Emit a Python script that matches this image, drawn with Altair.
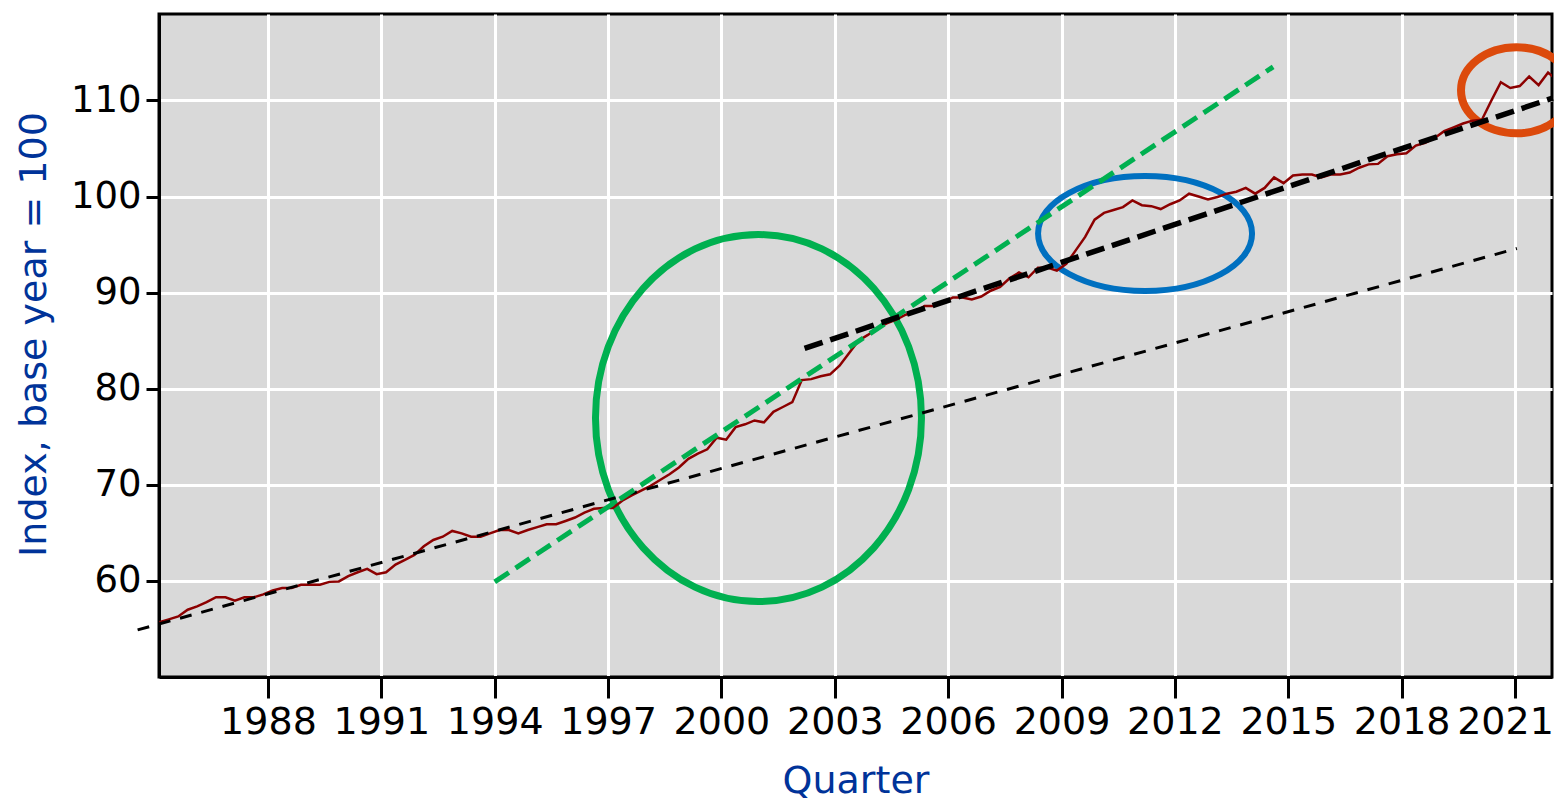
import altair as alt
import pandas as pd

# ---------------- data ----------------
first_year = 1985
index_values = [
    55.7, 56.0, 56.3, 57.0, 57.35, 57.8, 58.3, 58.3, 57.95, 58.3,
    58.3, 58.6, 59.0, 59.25, 59.25, 59.6, 59.6, 59.6, 59.9, 59.95,
    60.5, 60.9, 61.25, 60.7, 60.9, 61.7, 62.2, 62.7, 63.6, 64.26,
    64.6, 65.2, 64.95, 64.6, 64.6, 64.95, 65.3, 65.3, 64.95, 65.3,
    65.6, 65.9, 65.9, 66.24, 66.6, 67.1, 67.5, 67.6, 67.6, 68.35,
    68.9, 69.4, 69.9, 70.5, 71.1, 71.8, 72.7, 73.25, 73.7, 74.9,
    74.7, 76.0, 76.3, 76.7, 76.5, 77.6, 78.1, 78.6, 80.9, 81.0,
    81.3, 81.5, 82.4, 83.7, 85.0, 85.6, 86.3, 86.8, 87.2, 87.7,
    88.0, 88.6, 88.6, 89.0, 89.5, 89.5, 89.3, 89.6, 90.2, 90.6,
    91.5, 92.1, 91.6, 92.6, 92.6, 92.3, 93.0, 94.4, 95.8, 97.6,
    98.3, 98.6, 98.9, 99.6, 99.1, 99.0, 98.7, 99.2, 99.6, 100.3,
    100.0, 99.7, 99.96, 100.3, 100.5, 100.9, 100.3, 100.9, 102.0, 101.4,
    102.2, 102.3, 102.3, 102.0, 102.3, 102.3, 102.5, 103.0, 103.35, 103.4,
    104.2, 104.4, 104.5, 105.3, 105.6, 106.1, 106.8, 107.2, 107.6, 107.9,
    108.0, 110.0, 111.9, 111.3, 111.5, 112.5, 111.6, 112.9, 112.1,
]
quarter_labels = [f"{first_year + i // 4}Q{i % 4 + 1}" for i in range(len(index_values))]

x_ticks = [1988, 1991, 1994, 1997, 2000, 2003, 2006, 2009, 2012, 2015, 2018, 2021]
y_ticks = [60, 70, 80, 90, 100, 110]

# dashed trend lines (start / end in data units)
trend_names = ["long-run trend", "1994-2014 trend", "2002-2022 trend"]
trend_x1 = [1984.55, 1994.0, 2002.2]
trend_y1 = [54.9, 59.9, 84.2]
trend_x2 = [2021.05, 2014.6, 2022.0]
trend_y2 = [94.6, 113.5, 110.25]

# highlighted periods (ellipse centres in data units)
ellipse_names = ["late 1990s", "2009-2013", "2020-2022"]
ellipse_x = [2000.98, 2011.21, 2021.04]
ellipse_y = [76.95, 96.15, 111.06]

# ---------------- tables ----------------
series = pd.DataFrame({
    "quarter": quarter_labels,
    "t": [int(q[:4]) + (int(q[-1]) - 1) / 4 + 0.125 for q in quarter_labels],
    "value": index_values,
})
trends = pd.DataFrame({"name": trend_names, "x1": trend_x1, "y1": trend_y1,
                       "x2": trend_x2, "y2": trend_y2})
ellipses = pd.DataFrame({"name": ellipse_names, "x": ellipse_x, "y": ellipse_y})

# ---------------- scales / axes ----------------
FONT = "DejaVu Sans"
x_scale = alt.Scale(domain=[1985.116, 2021.979], nice=False, zero=False)
y_scale = alt.Scale(domain=[50, 119], nice=False, zero=False)

x_axis = alt.Axis(
    values=x_ticks, format="d", title="Quarter", grid=True,
    tickSize=21, labelFontSize=38, labelBaseline="alphabetic", labelPadding=35,
    labelOverlap=False, labelFlush=False, labelAngle=0,
    labelOffset={"condition": {"test": "datum.value === 2021", "value": -10}, "value": 0},
    titleBaseline="alphabetic", titleY=115, titleFontSize=38,
)
y_axis = alt.Axis(
    values=y_ticks, title="Index, base year = 100", grid=True,
    tickSize=13, labelFontSize=37, labelPadding=5, labelBaseline="middle",
    labelOverlap=False, labelFlush=False,
    titleAngle=270, titleAlign="center", titleBaseline="alphabetic",
    titleX=-114, titleY=320, titleFontSize=38,
)

base = alt.Chart(series)

# ellipse annotations (custom symbol paths: rx = 1, ry = k)
def ellipse_path(k):
    c = 0.5523
    return (f"M1,0 C1,{c*k:.4f} {c},{k:.4f} 0,{k:.4f} "
            f"C{-c},{k:.4f} -1,{c*k:.4f} -1,0 "
            f"C-1,{-c*k:.4f} {-c},{-k:.4f} 0,{-k:.4f} "
            f"C{c},{-k:.4f} 1,{-c*k:.4f} 1,0 Z")

ellipse_style = {
    "late 1990s": dict(color="#00b050", width=326, ratio=367 / 326, sw=7),
    "2009-2013": dict(color="#0070c0", width=214, ratio=115 / 214, sw=6),
    "2020-2022": dict(color="#dc4a0c", width=111, ratio=86 / 111, sw=8),
}
ellipse_layers = []
for name in ellipse_names:
    st = ellipse_style[name]
    ellipse_layers.append(
        alt.Chart(ellipses).transform_filter(alt.datum.name == name)
        .mark_point(shape=ellipse_path(st["ratio"]), size=st["width"] ** 2,
                    filled=False, stroke=st["color"], strokeWidth=st["sw"],
                    opacity=1)
        .encode(x=alt.X("x:Q", scale=x_scale, axis=x_axis),
                y=alt.Y("y:Q", scale=y_scale, axis=y_axis))
    )

line = base.mark_line(color="#8c0000", strokeWidth=2.5, clip=True).encode(
    x=alt.X("t:Q", scale=x_scale, axis=x_axis),
    y=alt.Y("value:Q", scale=y_scale, axis=y_axis),
    order="t:Q",
)

trend_style = {
    "long-run trend": dict(color="#000000", sw=3, dash=[12, 10]),
    "1994-2014 trend": dict(color="#00b050", sw=5, dash=[17, 8]),
    "2002-2022 trend": dict(color="#000000", sw=5.5, dash=[19, 8]),
}
trend_layers = []
for name in trend_names:
    st = trend_style[name]
    trend_layers.append(
        alt.Chart(trends).transform_filter(alt.datum.name == name)
        .mark_rule(color=st["color"], strokeWidth=st["sw"], strokeDash=st["dash"],
                   strokeCap="butt")
        .encode(x=alt.X("x1:Q", scale=x_scale, axis=x_axis), x2="x2:Q",
                y=alt.Y("y1:Q", scale=y_scale, axis=y_axis), y2="y2:Q")
    )

chart = alt.layer(*ellipse_layers, line, *trend_layers).properties(
    width=1393, height=663,
    autosize=alt.AutoSizeParams(type="none"),
    padding={"left": 151, "top": 6, "right": 2, "bottom": 126},
    background="white",
).configure_view(
    fill="#d9d9d9", stroke="#000000", strokeWidth=3,
).configure_axis(
    domainColor="#000000", domainWidth=3,
    tickColor="#000000", tickWidth=3,
    gridColor="#ffffff", gridWidth=3, gridOpacity=1,
    labelColor="#000000", labelFont=FONT,
    titleColor="#003399", titleFont=FONT, titleFontWeight="normal",
)

chart.save("out.html", embed_options={"renderer": "svg", "actions": False})
